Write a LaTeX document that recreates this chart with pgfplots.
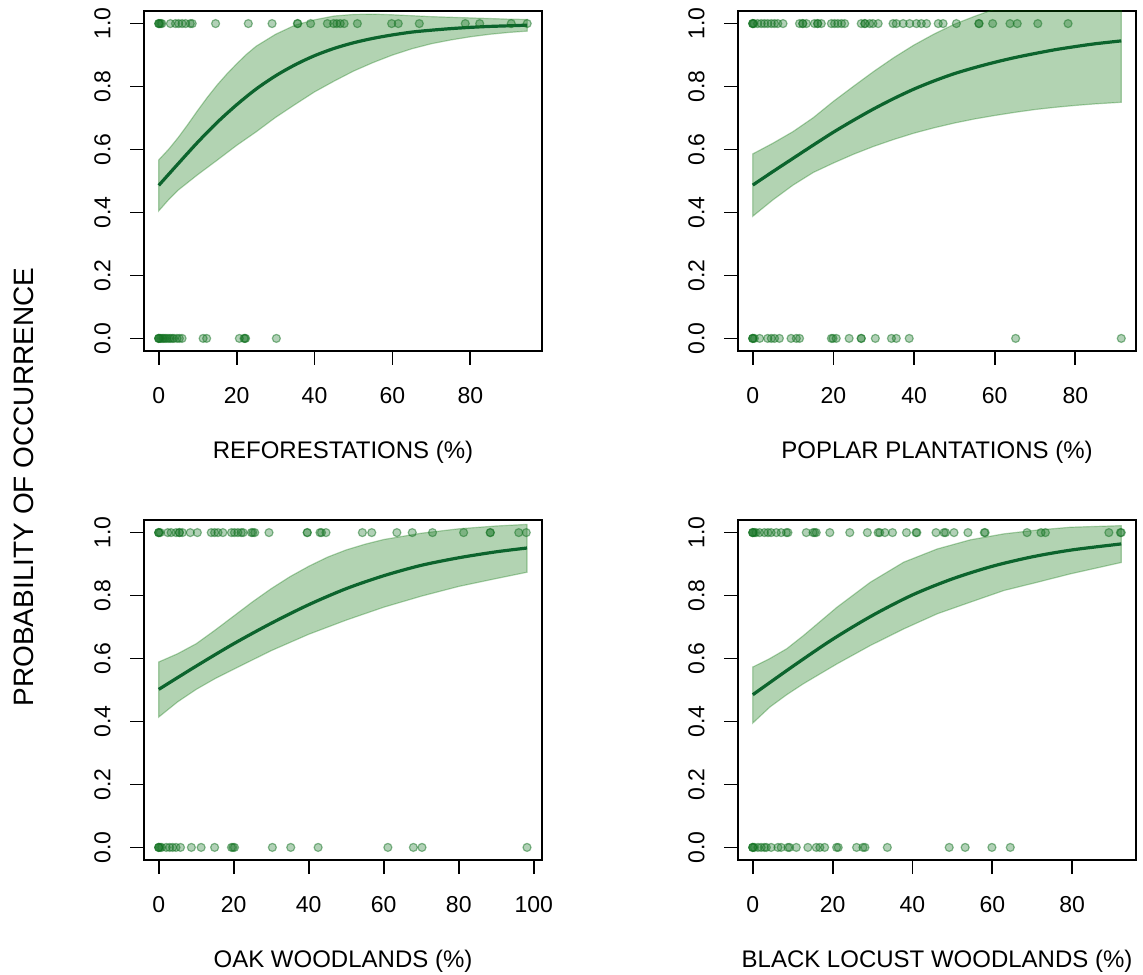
\documentclass[border=0pt]{standalone}
\usepackage{fontspec}
\setmainfont{Liberation Sans}
\usepackage{pgfplots}
\pgfplotsset{compat=1.18}
\definecolor{fitline}{RGB}{12,100,45}
\definecolor{bandcol}{RGB}{0,110,0}
\definecolor{ptcol}{RGB}{20,115,35}
\pgfplotsset{
 panel/.style={
  scale only axis, width=199pt, height=170pt, anchor=south west,
  ymin=-0.04, ymax=1.04,
  ytick={0,0.2,0.4,0.6,0.8,1},
  yticklabels={0.0,0.2,0.4,0.6,0.8,1.0},
  xtick={0,20,40,60,80,100},
  /pgf/number format/assume math mode=true,
  tick align=outside, major tick length=7pt,
  xtick pos=left, ytick pos=left,
  axis line style={line width=0.9pt},
  tick style={line width=0.9pt, black},
  tick label style={font=\fontsize{11.5}{13}\selectfont},
  yticklabel style={rotate=90, anchor=south, inner sep=0pt},
  xticklabel style={anchor=north, inner sep=0pt},
  yticklabel shift=9.5pt,
  xticklabel shift=11pt,
  xlabel style={at={(axis description cs:0.5,0)}, anchor=base, yshift=-53.7pt, font=\fontsize{12}{14}\selectfont},
 },
 band/.style={fill=bandcol, fill opacity=0.3, draw=bandcol, draw opacity=0.3, line width=0.6pt},
 fitl/.style={color=fitline, line width=1.6pt, smooth},
 pts/.style={only marks, mark=*, mark size=2pt, mark options={fill=ptcol, draw=ptcol, fill opacity=0.33, draw opacity=0.5, line width=0.6pt}},
}
\begin{document}
\begin{tikzpicture}
\path[use as bounding box] (0,0) rectangle (571.5pt,487pt);
\node[rotate=90, anchor=base, font=\fontsize{14}{16}\selectfont] at (16.5pt,243.5pt) {PROBABILITY OF OCCURRENCE};
% Panel 1
\begin{axis}[panel, at={(72pt,311.5pt)}, xmin=-3.78, xmax=98.4, xlabel={REFORESTATIONS (\%)}]
\addplot[band] coordinates {(0,0.567) (2.5,0.600) (5,0.638) (7.5,0.680) (10,0.724) (12.5,0.766) (15,0.805) (17.5,0.840) (20,0.872) (22.5,0.902) (25,0.928) (30,0.966) (35,0.995) (40,1.012) (45,1.024) (50,1.029) (55,1.030) (60,1.028) (65,1.025) (70,1.022) (75,1.020) (80,1.018) (85,1.016) (90,1.014) (94.6,1.013)
 (94.6,0.976) (90,0.972) (85,0.966) (80,0.958) (75,0.948) (70,0.936) (65,0.920) (60,0.900) (55,0.876) (50,0.849) (45,0.817) (40,0.783) (35,0.743) (30,0.702) (25,0.656) (20,0.613) (15,0.566) (10,0.520) (5,0.471) (2.5,0.440) (0,0.405)} -- cycle;
\addplot[fitl] coordinates {(0,0.486) (5,0.555) (10,0.623) (15,0.686) (20,0.742) (25,0.792) (30,0.834) (35,0.869) (40,0.898) (45,0.921) (50,0.939) (55,0.953) (60,0.964) (65,0.973) (70,0.979) (75,0.984) (80,0.988) (85,0.991) (90,0.993) (94.6,0.995)};
\addplot[pts] coordinates {(0,1) (0,1) (0.2,1) (0.5,1) (0.8,1) (3.0,1) (4.3,1) (5.1,1) (6.0,1) (6.9,1) (8.1,1) (8.6,1) (14.6,1) (23.0,1) (29.1,1) (35.6,1) (35.7,1) (39.0,1) (43.3,1) (44.9,1) (45.7,1) (46.6,1) (47.6,1) (51.0,1) (59.8,1) (61.5,1) (66.9,1) (78.7,1) (82.4,1) (90.5,1) (94.6,1)
 (0,0) (0,0) (0,0) (0.3,0) (0.6,0) (1.0,0) (1.3,0) (1.7,0) (2.1,0) (2.6,0) (3.0,0) (3.5,0) (3.9,0) (4.7,0) (5.3,0) (6.0,0) (11.4,0) (12.3,0) (20.7,0) (21.9,0) (22.1,0) (22.3,0) (30.2,0)};
\end{axis}
% Panel 2
\begin{axis}[panel, at={(369pt,311.5pt)}, xmin=-3.66, xmax=95.06, xlabel={POPLAR PLANTATIONS (\%)}]
\addplot[band] coordinates {(0,0.586) (5,0.620) (10,0.657) (15,0.701) (20,0.753) (25,0.801) (30,0.848) (35,0.892) (40,0.932) (45,0.967) (50,0.998) (55,1.023) (60,1.046) (65,1.066) (70,1.083) (75,1.100) (80,1.114) (85,1.127) (91.4,1.140)
 (91.4,0.750) (85,0.745) (80,0.740) (75,0.734) (70,0.727) (65,0.718) (60,0.708) (55,0.697) (50,0.684) (45,0.669) (40,0.652) (35,0.632) (30,0.610) (25,0.585) (20,0.557) (15,0.527) (10,0.487) (5,0.440) (0,0.388)} -- cycle;
\addplot[fitl] coordinates {(0,0.487) (5,0.530) (10,0.572) (15,0.614) (20,0.655) (25,0.693) (30,0.729) (35,0.762) (40,0.792) (45,0.818) (50,0.841) (55,0.860) (60,0.877) (65,0.892) (70,0.905) (75,0.917) (80,0.927) (85,0.936) (91.4,0.945)};
\addplot[pts] coordinates {(0,1) (0,1) (0,1) (0.3,1) (1.2,1) (2.1,1) (2.9,1) (3.7,1) (4.6,1) (5.4,1) (6.2,1) (7.5,1) (11.6,1) (12.4,1) (12.4,1) (13.3,1) (15.3,1) (16.1,1) (16.1,1) (17.0,1) (19.5,1) (20.3,1) (21.1,1) (22.0,1) (22.8,1) (26.9,1) (27.8,1) (27.8,1) (29.0,1) (29.8,1) (31.1,1) (34.8,1) (35.6,1) (37.3,1) (38.9,1) (40.6,1) (41.8,1) (43.1,1) (46.0,1) (47.2,1) (50.5,1) (56.1,1) (56.1,1) (59.5,1) (63.8,1) (65.6,1) (70.7,1) (78.2,1)
 (0,0) (0,0) (0,0) (0.4,0) (1.7,0) (3.7,0) (4.6,0) (5.4,0) (6.6,0) (9.5,0) (10.8,0) (11.6,0) (19.5,0) (19.9,0) (20.7,0) (23.9,0) (26.9,0) (26.9,0) (30.4,0) (34.4,0) (35.6,0) (38.8,0) (65.2,0) (91.4,0)};
\end{axis}
% Panel 3
\begin{axis}[panel, at={(72pt,57pt)}, xmin=-3.93, xmax=102.2, xlabel={OAK WOODLANDS (\%)}]
\addplot[band] coordinates {(0,0.589) (5,0.615) (10,0.647) (15,0.690) (20,0.735) (25,0.780) (30,0.822) (35,0.860) (40,0.893) (45,0.922) (50,0.945) (55,0.963) (60,0.978) (70,0.998) (80,1.012) (90,1.021) (98.2,1.026)
 (98.2,0.874) (90,0.854) (80,0.829) (70,0.798) (60,0.763) (50,0.722) (40,0.677) (30,0.625) (20,0.566) (15,0.536) (10,0.502) (5,0.462) (0,0.414)} -- cycle;
\addplot[fitl] coordinates {(0,0.502) (10,0.576) (20,0.647) (30,0.712) (40,0.771) (50,0.822) (60,0.863) (70,0.896) (80,0.920) (90,0.939) (98.2,0.951)};
\addplot[pts] coordinates {(0,1) (0,1) (0,1) (0.4,1) (2.4,1) (3.3,1) (4.6,1) (5.5,1) (5.5,1) (6.3,1) (8.4,1) (10.3,1) (14.0,1) (14.9,1) (15.8,1) (17.1,1) (19.4,1) (20.2,1) (21.1,1) (22.0,1) (22.5,1) (24.7,1) (25.1,1) (25.6,1) (29.4,1) (39.6,1) (39.6,1) (43.0,1) (43.4,1) (44.6,1) (54.3,1) (56.8,1) (63.5,1) (67.6,1) (73.0,1) (81.3,1) (88.4,1) (88.4,1) (96.0,1) (98.0,1)
 (0,0) (0,0) (0,0) (0.4,0) (0.8,0) (2.0,0) (2.9,0) (3.7,0) (4.6,0) (5.8,0) (8.7,0) (11.3,0) (14.9,0) (19.4,0) (19.8,0) (20.2,0) (30.3,0) (35.2,0) (42.5,0) (61.1,0) (67.9,0) (70.2,0) (98.2,0)};
\end{axis}
% Panel 4
\begin{axis}[panel, at={(369pt,57pt)}, xmin=-3.7, xmax=96.0, xlabel={BLACK LOCUST WOODLANDS (\%)}]
\addplot[band] coordinates {(0,0.573) (4,0.598) (8.5,0.631) (12.7,0.673) (21.1,0.763) (29.4,0.842) (37.8,0.906) (46.2,0.948) (54.5,0.977) (62.9,0.996) (71.2,1.008) (79.6,1.017) (92.3,1.022)
 (92.3,0.905) (79.6,0.869) (71.2,0.842) (62.9,0.816) (54.5,0.779) (46.2,0.742) (37.8,0.694) (29.4,0.641) (21.1,0.583) (12.7,0.520) (8.5,0.485) (4.3,0.446) (0,0.395)} -- cycle;
\addplot[fitl] coordinates {(0,0.485) (10,0.575) (20,0.661) (30,0.737) (40,0.802) (50,0.853) (60,0.893) (70,0.923) (80,0.945) (92.3,0.964)};
\addplot[pts] coordinates {(0,1) (0,1) (0,1) (0.4,1) (0.8,1) (1.7,1) (2.9,1) (3.8,1) (4.6,1) (5.9,1) (7.1,1) (8.4,1) (8.8,1) (13.4,1) (15.1,1) (15.5,1) (15.9,1) (19.3,1) (24.3,1) (28.7,1) (31.4,1) (31.8,1) (33.1,1) (35.0,1) (38.5,1) (40.9,1) (41.1,1) (45.9,1) (47.9,1) (48.3,1) (50.4,1) (53.9,1) (58.0,1) (58.2,1) (68.7,1) (72.2,1) (73.3,1) (89.2,1) (92.1,1) (92.3,1)
 (0,0) (0,0) (0,0) (0.4,0) (1.3,0) (2.1,0) (2.9,0) (3.4,0) (4.6,0) (6.3,0) (7.1,0) (8.8,0) (9.2,0) (10.9,0) (13.8,0) (15.9,0) (16.8,0) (18.0,0) (21.0,0) (21.4,0) (26.0,0) (27.6,0) (28.1,0) (33.7,0) (49.2,0) (53.2,0) (59.9,0) (64.5,0)};
\end{axis}
\end{tikzpicture}
\end{document}
